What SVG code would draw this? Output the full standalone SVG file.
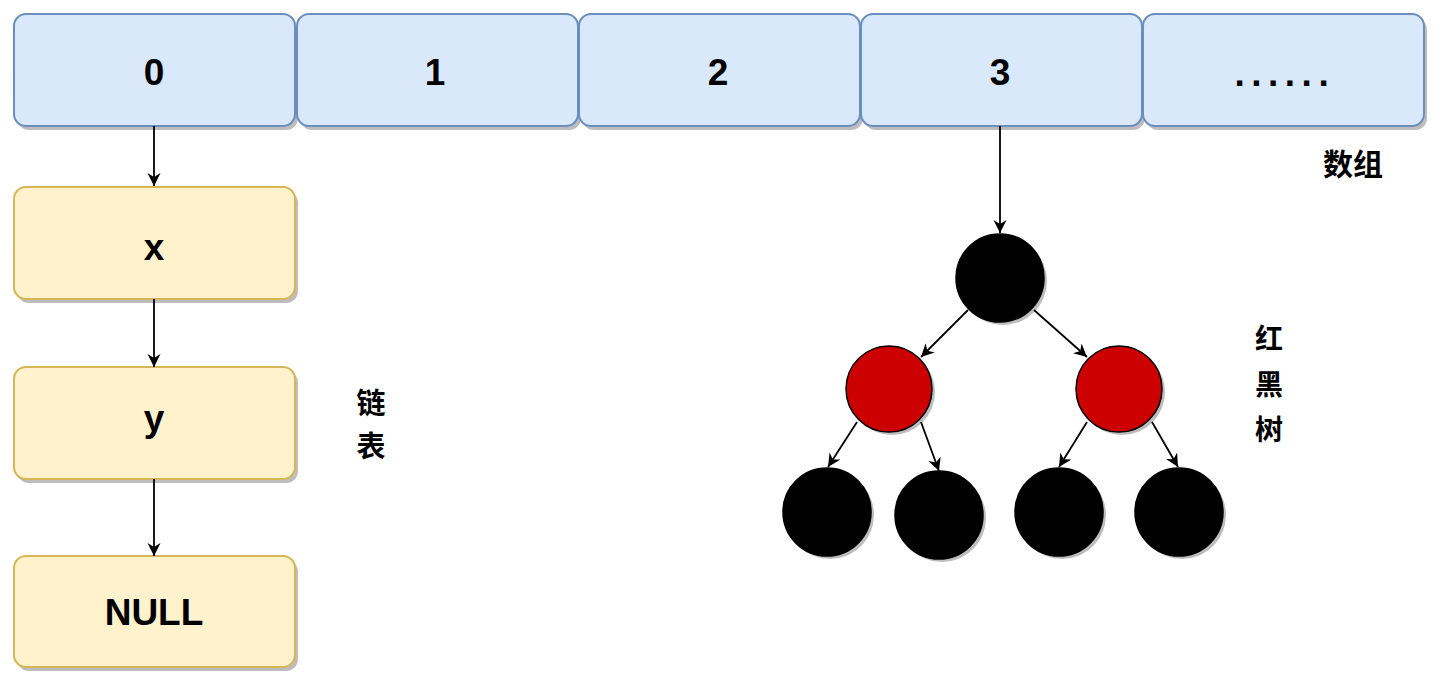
<svg xmlns="http://www.w3.org/2000/svg" width="1440" height="692" viewBox="0 0 1440 692">
<defs>
<style>
.arr{fill:#dae8fc;stroke:#6c8ebf;stroke-width:2}
.lst{fill:#fff2cc;stroke:#d6b656;stroke-width:2}
.sh{fill:#bdbdbd}
.blk{fill:#000;stroke:#000;stroke-width:1.5}
.red{fill:#cc0000;stroke:#000;stroke-width:1.5}
.t{font-family:"Liberation Sans",Arial,sans-serif;font-weight:bold;font-size:37px;fill:#000;text-anchor:middle}
.c{font-family:"Noto Sans CJK SC","Noto Sans",sans-serif;font-weight:bold;fill:#000;text-anchor:middle}
.e{fill:none;stroke:#000;stroke-width:1.8}
</style>
<marker id="ah" viewBox="0 0 14 14" markerWidth="14" markerHeight="14" refX="13" refY="7" orient="auto" markerUnits="userSpaceOnUse">
<path d="M0,0.5 L13,7 L0,13.5 L4,7 Z" fill="#000"/>
</marker>
</defs>
<g id="array">
<g id="a0"><rect class="sh" x="17" y="18" width="281" height="112" rx="12"/><rect class="arr" x="14" y="14" width="281" height="112" rx="12"/><text class="t" x="154" y="85">0</text></g>
<g id="a1"><rect class="sh" x="300" y="18" width="281" height="112" rx="12"/><rect class="arr" x="297" y="14" width="281" height="112" rx="12"/><text class="t" x="435" y="85">1</text></g>
<g id="a2"><rect class="sh" x="582" y="18" width="281" height="112" rx="12"/><rect class="arr" x="579" y="14" width="281" height="112" rx="12"/><text class="t" x="718" y="85">2</text></g>
<g id="a3"><rect class="sh" x="864" y="18" width="281" height="112" rx="12"/><rect class="arr" x="861" y="14" width="281" height="112" rx="12"/><text class="t" x="1000" y="85">3</text></g>
<g id="a4"><rect class="sh" x="1146" y="18" width="281" height="112" rx="12"/><rect class="arr" x="1143" y="14" width="281" height="112" rx="12"/><text class="t" x="1234.5" y="86" style="text-anchor:start" letter-spacing="6.5">......</text></g>
</g>
<g id="label-array"><text class="c" x="1353" y="175" font-size="30">数组</text></g>
<g id="list">
<g id="nx"><rect class="sh" x="17" y="191" width="281" height="112" rx="12"/><rect class="lst" x="14" y="187" width="281" height="112" rx="12"/><text class="t" x="154" y="260">x</text></g>
<g id="ny"><rect class="sh" x="17" y="371" width="281" height="112" rx="12"/><rect class="lst" x="14" y="367" width="281" height="112" rx="12"/><text class="t" x="154" y="431">y</text></g>
<g id="nnull"><rect class="sh" x="17" y="560" width="281" height="111" rx="12"/><rect class="lst" x="14" y="556" width="281" height="111" rx="12"/><text class="t" x="154" y="625">NULL</text></g>
</g>
<g id="label-list"><text class="c" x="371" y="414" font-size="29">链</text><text class="c" x="371" y="457" font-size="29">表</text></g>
<g id="tree">
<g id="root"><circle class="sh" cx="1003" cy="281" r="44"/><circle class="blk" cx="1000" cy="278" r="44"/></g>
<g id="rl"><circle class="sh" cx="892" cy="392" r="43"/><circle class="red" cx="889" cy="389" r="43"/></g>
<g id="rr"><circle class="sh" cx="1122" cy="392" r="43"/><circle class="red" cx="1119" cy="389" r="43"/></g>
<g id="b1"><circle class="sh" cx="830" cy="515" r="44"/><circle class="blk" cx="827" cy="512" r="44"/></g>
<g id="b2"><circle class="sh" cx="942" cy="518" r="44"/><circle class="blk" cx="939" cy="515" r="44"/></g>
<g id="b3"><circle class="sh" cx="1062" cy="515" r="44"/><circle class="blk" cx="1059" cy="512" r="44"/></g>
<g id="b4"><circle class="sh" cx="1182" cy="515" r="44"/><circle class="blk" cx="1179" cy="512" r="44"/></g>
</g>
<g id="label-tree"><text class="c" x="1269" y="349" font-size="28">红</text><text class="c" x="1269" y="395" font-size="28">黑</text><text class="c" x="1269" y="440" font-size="28">树</text></g>
<g id="connectors">
<path class="e" marker-end="url(#ah)" d="M154,126 L154,186"/>
<path class="e" marker-end="url(#ah)" d="M154,299 L154,367"/>
<path class="e" marker-end="url(#ah)" d="M154,479 L154,556"/>
<path class="e" marker-end="url(#ah)" d="M1000,126 L1000,233"/>
<path class="e" marker-end="url(#ah)" d="M968,310 L921,357"/>
<path class="e" marker-end="url(#ah)" d="M1034,310 L1087,357"/>
<path class="e" marker-end="url(#ah)" d="M857,422 L828,467"/>
<path class="e" marker-end="url(#ah)" d="M921,422 L939,471"/>
<path class="e" marker-end="url(#ah)" d="M1087,422 L1059,467"/>
<path class="e" marker-end="url(#ah)" d="M1152,422 L1178,467"/>
</g>
</svg>
